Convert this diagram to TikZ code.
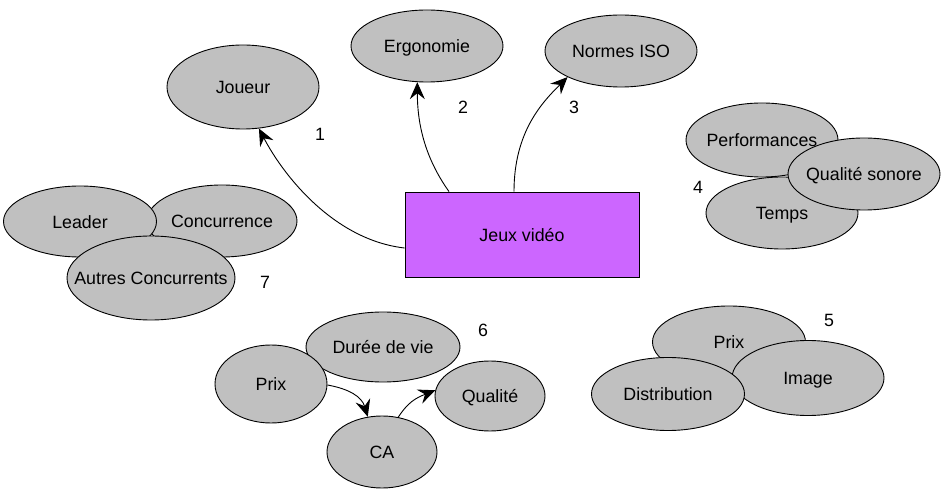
\documentclass[tikz,border=0pt]{standalone}
\usepackage{fontspec}
\setmainfont{Liberation Sans}
\usetikzlibrary{shapes.geometric,arrows.meta}
\definecolor{ellgray}{HTML}{C0C0C0}
\definecolor{boxviolet}{HTML}{CC66FF}
\newcommand{\ztxt}[1]{\makebox[0pt]{\raisebox{-7pt}[0pt][0pt]{#1}}}
\tikzset{
  ell/.style={ellipse, draw=black, fill=ellgray, line width=0.9pt, inner sep=0pt},
  lbl/.style={inner sep=0pt},
  conn/.style={line width=0.9pt, -{Stealth[length=17pt,width=15pt,inset=6pt]}},
  every node/.style={font=\fontsize{17.8}{20}\selectfont}
}
\begin{document}
\begin{tikzpicture}[x=1pt,y=-1pt]
\useasboundingbox (0,0) rectangle (946,494);
% main box
\node[draw=black, fill=boxviolet, line width=0.9pt, minimum width=234pt, minimum height=85pt, inner sep=0pt] (jeux) at (522,234.5) {\ztxt{Jeux vidéo}};
% top ellipses
\node[ell, minimum width=152pt, minimum height=84pt] (joueur) at (243,87) {\ztxt{Joueur}};
\node[ell, minimum width=152pt, minimum height=72pt] (ergo) at (427,46) {\ztxt{Ergonomie}};
\node[ell, minimum width=152pt, minimum height=72pt] (iso) at (621,51) {\ztxt{Normes ISO}};
% group 4
\node[ell, minimum width=152pt, minimum height=74pt] (perf) at (762,140) {\ztxt{Performances}};
\node[ell, minimum width=152pt, minimum height=72pt] (temps) at (782,213) {\ztxt{Temps}};
\node[ell, minimum width=152pt, minimum height=72pt] (sonore) at (864,174) {\ztxt{Qualité sonore}};
% group 7
\node[ell, minimum width=150pt, minimum height=72pt] (conc) at (222,221) {\ztxt{Concurrence}};
\node[ell, minimum width=153pt, minimum height=71pt] (leader) at (80,221.5) {\ztxt{Leader}};
\node[ell, minimum width=168pt, minimum height=84pt] (autres) at (151,278) {\ztxt{Autres Concurrents}};
% group 6
\node[ell, minimum width=154pt, minimum height=70pt] (duree) at (383,347) {\ztxt{Durée de vie}};
\node[ell, minimum width=112pt, minimum height=78pt] (prixa) at (271,384) {\ztxt{Prix}};
\node[ell, minimum width=110pt, minimum height=70pt] (qual) at (490,396) {\ztxt{Qualité}};
\node[ell, minimum width=110pt, minimum height=72pt] (ca) at (382,452) {\ztxt{CA}};
% group 5
\node[ell, minimum width=153pt, minimum height=72pt] (prixb) at (729,342) {\ztxt{Prix}};
\node[ell, minimum width=152pt, minimum height=75pt] (image) at (808,378) {\ztxt{Image}};
\node[ell, minimum width=153pt, minimum height=73pt] (distrib) at (668,394) {\ztxt{Distribution}};
% numbers
\node[lbl] (n1) at (320,134) {1};
\node[lbl] (n2) at (463,107) {2};
\node[lbl] (n3) at (574,107) {3};
\node[lbl] (n4) at (698,187) {4};
\node[lbl] (n5) at (829,320) {5};
\node[lbl] (n6) at (483,330) {6};
\node[lbl] (n7) at (265,282) {7};
% connectors
\draw[conn] ([yshift=-13.5pt]jeux.west) .. controls +(-70,-8) and +(25,48) .. (joueur.-69);
\draw[conn] ([xshift=-73pt]jeux.north) .. controls +(-25,-35) and +(0,40) .. (ergo.-105);
\draw[conn] ([xshift=-8pt]jeux.north) .. controls +(0,-60) and +(-25,25) .. (iso.206);
\draw[conn] (prixa.-1) .. controls +(22,4) and +(-6,-20) .. (ca.112);
\draw[conn] (ca.65) .. controls +(10,-15) and +(-20,8) .. (qual.174);
\end{tikzpicture}
\end{document}
